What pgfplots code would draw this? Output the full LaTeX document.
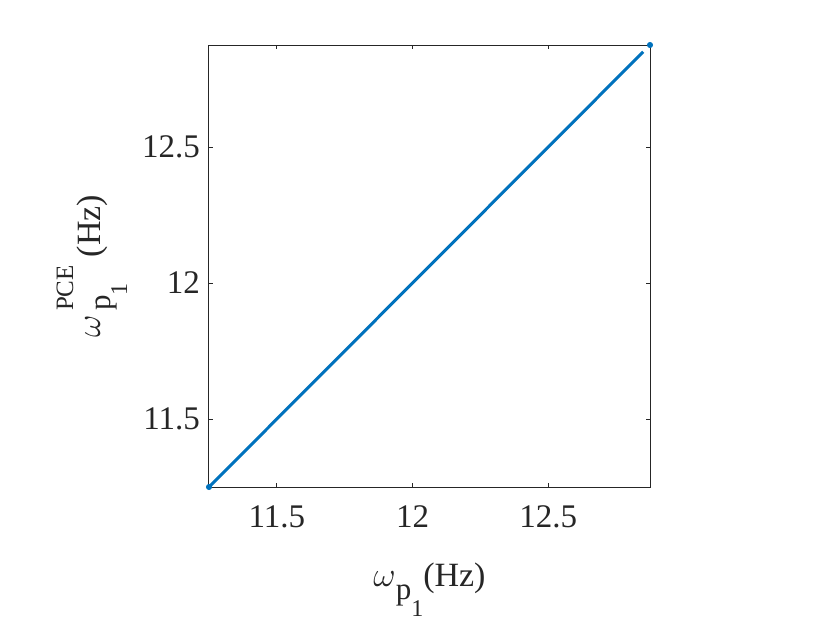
\documentclass[border=0pt]{standalone}
\usepackage{fontspec}
\setmainfont{Liberation Serif}
\usepackage{pgfplots}
\pgfplotsset{compat=1.18}
\usetikzlibrary{calc}
\definecolor{mblue}{rgb}{0,0.447,0.741}
\definecolor{axgray}{rgb}{0.15,0.15,0.15}
% MATLAB-like low sub/superscripts
\newcommand{\pone}[1]{\raisebox{#1}{\fontsize{15.5}{18}\selectfont p\raisebox{-8.5pt}{\fontsize{12}{14}\selectfont 1}}}
\newcommand{\psup}{\raisebox{13.5pt}{\fontsize{12.5}{15}\selectfont PCE}}

\begin{document}
\begin{tikzpicture}
\begin{axis}[name=ax,
  scale only axis, width=220.5pt, height=221pt,
  xmin=11.25, xmax=12.875, ymin=11.25, ymax=12.875,
  xtick={11.5,12,12.5}, ytick={11.5,12,12.5},
  xticklabels={11.5,12,12.5}, yticklabels={11.5,12,12.5},
  tick align=inside, tick pos=both,
  major tick length=2.2pt,
  axis line style={axgray, line width=0.5pt},
  every tick/.style={axgray, line width=0.5pt},
  ticklabel style={font=\fontsize{16.5}{19}\selectfont, text=axgray},
  every x tick label/.append style={anchor=base, yshift=-20pt},
  every y tick label/.append style={anchor=east, xshift=-1pt},
  /pgf/number format/assume math mode=true,
  label style={font=\fontsize{17}{20}\selectfont, text=axgray},
  xlabel={$\omega$\pone{-6.5pt}(Hz)},
  ylabel={$\omega$\hspace{2pt}\rlap{\pone{-5pt}}\psup\hspace{4pt}(Hz)},
  xlabel style={at={(axis description cs:0.5,-0.226)}, anchor=base},
  ylabel style={at={(axis description cs:-0.247,0.5)}, anchor=base},
]
\addplot[color=mblue, line width=1.5pt] coordinates {
  (11.250,11.250) (11.500,11.500) (11.750,11.750) (12.000,12.000)
  (12.250,12.250) (12.500,12.500) (12.750,12.750) (12.850,12.850)
};
\addplot[color=mblue, only marks, mark=*, mark size=1.3pt] coordinates {
  (11.250,11.250) (12.875,12.875)
};
\end{axis}
\pgfresetboundingbox
\path[use as bounding box] ($(ax.south west)+(-104.5pt,-68pt)$) rectangle ($(ax.north east)+(90pt,22.5pt)$);
\end{tikzpicture}
\end{document}
